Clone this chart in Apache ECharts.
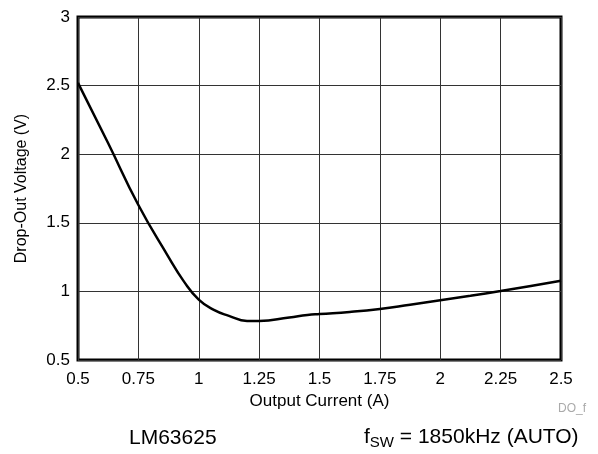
<!DOCTYPE html>
<html>
<head>
<meta charset="utf-8">
<script src="https://cdn.jsdelivr.net/npm/echarts@6/dist/echarts.min.js"></script>
<style>
  html, body { margin: 0; padding: 0; background: #fff; }
</style>
</head>
<body>
<div id="chart" style="width:598px;height:454px;"></div>
<script>
// output current (A) and drop-out voltage (V)
var currentA = [0.5, 0.625, 0.75, 0.875, 0.9375, 1.0, 1.0625, 1.125, 1.2, 1.25, 1.375, 1.45, 1.5, 1.625, 1.75, 1.875, 2.0, 2.125, 2.25, 2.375, 2.5];
var dropoutV = [2.52, 2.08, 1.63, 1.25, 1.075, 0.94, 0.865, 0.822, 0.785, 0.785, 0.81, 0.828, 0.835, 0.85, 0.872, 0.903, 0.935, 0.968, 1.003, 1.04, 1.078];

var xTicks = ['0.5', '0.75', '1', '1.25', '1.5', '1.75', '2', '2.25', '2.5'];
var yTicks = ['0.5', '1', '1.5', '2', '2.5', '3'];

var font = 'Liberation Sans, Arial, sans-serif';

var chart = echarts.init(document.getElementById('chart'));

var option = {
  backgroundColor: '#fff',
  animation: false,
  grid: {
    left: 78, right: 37, top: 17, bottom: 94,
    show: true,
    borderColor: '#000',
    borderWidth: 3,
    backgroundColor: '#fff'
  },
  xAxis: {
    type: 'value',
    min: 0.5, max: 2.5, interval: 0.25,
    name: 'Output Current (A)',
    nameLocation: 'middle',
    nameGap: 32,
    nameTextStyle: { fontFamily: font, fontSize: 17, color: '#000' },
    axisLine: { show: false },
    axisTick: { show: false },
    axisLabel: {
      margin: 11, fontFamily: font, fontSize: 17, color: '#000',
      formatter: function (v) { return xTicks[Math.round((v - 0.5) / 0.25)]; }
    },
    splitLine: { lineStyle: { color: '#333', width: 1 } }
  },
  yAxis: {
    type: 'value',
    min: 0.5, max: 3, interval: 0.5,
    name: 'Drop-Out Voltage (V)',
    nameLocation: 'middle',
    nameGap: 48,
    nameTextStyle: { fontFamily: font, fontSize: 16, color: '#000' },
    axisLine: { show: false },
    axisTick: { show: false },
    axisLabel: {
      margin: 8, fontFamily: font, fontSize: 17, color: '#000',
      formatter: function (v) { return yTicks[Math.round((v - 0.5) / 0.5)]; }
    },
    splitLine: { lineStyle: { color: '#333', width: 1 } }
  },
  series: [{
    type: 'line',
    data: currentA.map(function (x, i) { return [x, dropoutV[i]]; }),
    smooth: 0.5,
    showSymbol: false,
    lineStyle: { color: '#000', width: 2.5 },
    z: 5
  }],
  graphic: [
    {
      type: 'text', left: 558, top: 403,
      style: { text: 'DO_f', fontFamily: font, fontSize: 12, fill: '#aaa' }
    },
    {
      type: 'text', left: 129, top: 428,
      style: { text: 'LM63625', fontFamily: font, fontSize: 21, fill: '#000' }
    },
    {
      type: 'text', left: 364, top: 427,
      style: {
        text: '{n|f}{s|SW}{n| = 1850kHz (AUTO)}',
        rich: {
          n: { fontFamily: font, fontSize: 21, fill: '#000' },
          s: { fontFamily: font, fontSize: 15, fill: '#000', padding: [10, 0, 0, 0] }
        }
      }
    }
  ]
};

chart.setOption(option);
</script>
</body>
</html>
